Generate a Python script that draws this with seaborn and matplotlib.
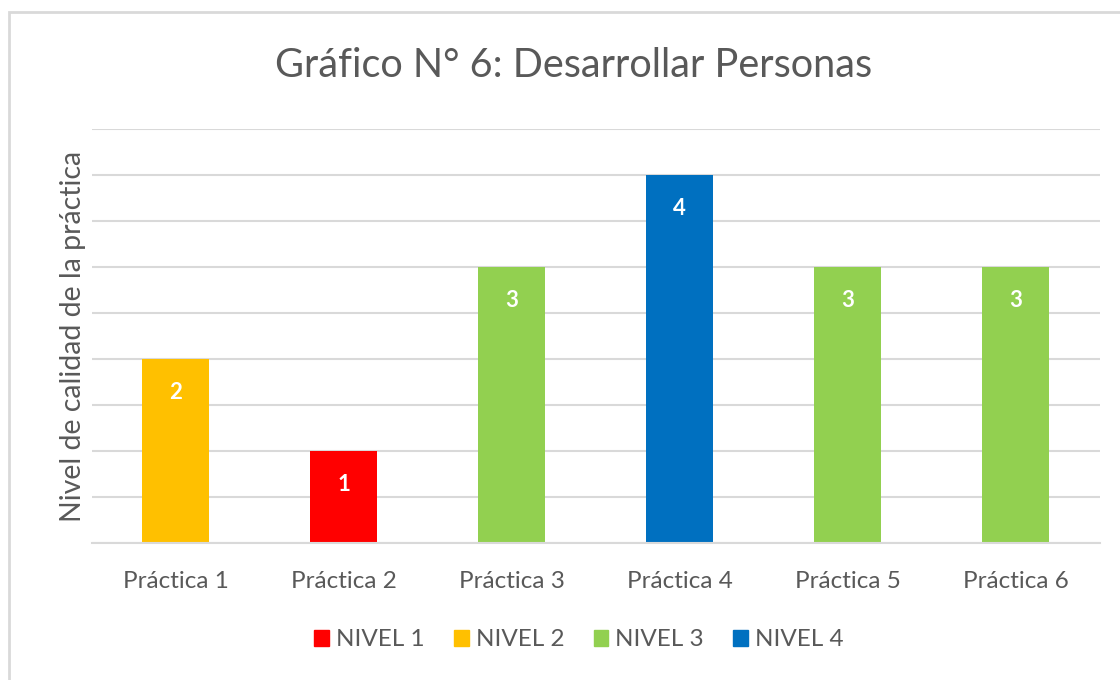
import matplotlib
matplotlib.use("Agg")
import matplotlib.pyplot as plt
from matplotlib.patches import Rectangle
import pandas as pd
import seaborn as sns

practicas = ["Práctica 1", "Práctica 2", "Práctica 3", "Práctica 4", "Práctica 5", "Práctica 6"]
valores = [2, 1, 3, 4, 3, 3]
niveles = ["NIVEL 2", "NIVEL 1", "NIVEL 3", "NIVEL 4", "NIVEL 3", "NIVEL 3"]
orden_niveles = ["NIVEL 1", "NIVEL 2", "NIVEL 3", "NIVEL 4"]
colores = {"NIVEL 1": "#FF0000", "NIVEL 2": "#FFC000", "NIVEL 3": "#92D050", "NIVEL 4": "#0070C0"}

df = pd.DataFrame({"practica": practicas, "valor": valores, "nivel": niveles})

sns.set_style("white")
plt.rcParams["font.family"] = ["Lato", "DejaVu Sans"]
gris = "#595959"

fig = plt.figure(figsize=(11.2, 6.8), dpi=100)
ax = fig.add_axes([0.082, 0.2015, 0.9, 0.6085])

sns.barplot(data=df, x="practica", y="valor", hue="nivel", hue_order=orden_niveles,
            palette=colores, dodge=False, width=0.4, saturation=1, linewidth=0,
            ax=ax, legend=False)

ax.set_ylim(0, 4.5)
ax.set_xlim(-0.5, 5.5)
ax.set_yticks([i * 0.5 for i in range(10)])
ax.set_yticklabels([])
ax.tick_params(axis="y", length=0)
ax.yaxis.grid(True, color="#d9d9d9", linewidth=1.5)
ax.set_axisbelow(True)
for s in ["top", "right", "left"]:
    ax.spines[s].set_visible(False)
ax.spines["bottom"].set_color("#d9d9d9")
ax.spines["bottom"].set_linewidth(1.5)

ax.set_xticks(range(len(practicas)))
ax.set_xticklabels(practicas, fontsize=17.5, color=gris)
ax.tick_params(axis="x", which="major", length=0, pad=20)
ax.set_xticks([i - 0.5 for i in range(len(practicas) + 1)], minor=True)
ax.tick_params(axis="x", which="minor", length=5, color="#d9d9d9", width=1.5)

ax.set_xlabel("")
ax.set_ylabel("Nivel de calidad de la práctica", fontsize=20.5, color=gris, labelpad=1)

for i, v in enumerate(valores):
    ax.text(i, v - 0.36, str(v), ha="center", va="center", color="white",
            fontsize=16, fontweight="bold")

fig.text(0.512, 0.904, "Gráfico N° 6: Desarrollar Personas", ha="center", va="center",
         fontsize=28.5, color=gris)

handles = [Rectangle((0, 0), 1, 1, color=colores[n]) for n in orden_niveles]
fig.legend(handles, orden_niveles, loc="center", bbox_to_anchor=(0.517, 0.059), ncol=4,
           frameon=False, fontsize=17.5, labelcolor=gris, handlelength=0.6,
           handleheight=0.6, handletextpad=0.3, columnspacing=1.2)

fig.patches.append(Rectangle((0.008, -0.02), 1.05, 1.002, transform=fig.transFigure,
                             fill=False, edgecolor="#d9d9d9", linewidth=2))

fig.savefig("out.png", dpi=100)
